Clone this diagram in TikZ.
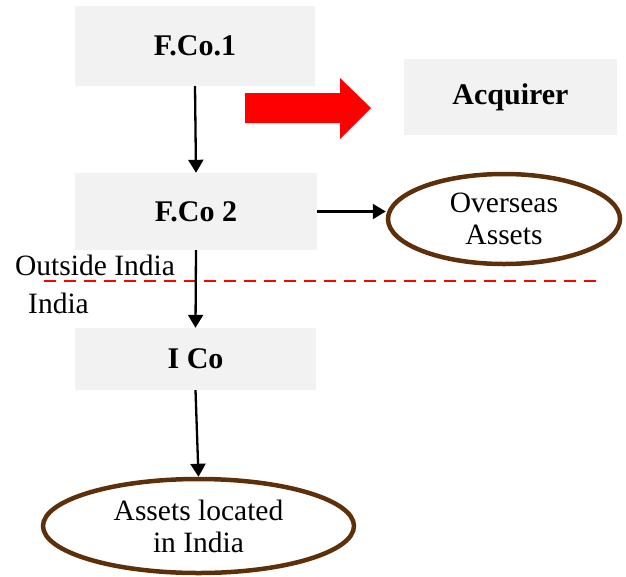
\documentclass[tikz,border=0pt]{standalone}
\usepackage{fontspec}
\setmainfont{Liberation Serif}
\usetikzlibrary{arrows.meta,shapes.geometric}
\definecolor{boxgrey}{HTML}{F2F2F2}
\definecolor{rim}{RGB}{94,48,10}
\tikzset{
  entity/.style={rectangle, fill=boxgrey, inner sep=0pt, font=\bfseries\fontsize{30}{32}\selectfont},
  holding/.style={ellipse, draw=rim, line width=4.5pt, inner sep=0pt, align=center,
    font=\fontsize{29.5}{32}\selectfont},
  link/.style={line width=2.3pt, -{Triangle[length=13pt,width=15pt]}},
  region/.style={font=\fontsize{29.5}{32}\selectfont, inner sep=0pt, anchor=base west}
}
\begin{document}
\begin{tikzpicture}[x=1pt,y=-1pt]
\useasboundingbox (0,0) rectangle (626,576);

% companies
\node[entity, minimum width=240pt, minimum height=80pt] (f1) at (195,46) {F.Co.1};
\node[entity, minimum width=213pt, minimum height=76pt] (acq) at (510.5,97) {Acquirer};
\node[entity, minimum width=242pt, minimum height=77pt] (f2) at (196,211.5) {F.Co 2};
\node[entity, minimum width=241pt, minimum height=62pt] (ico) at (195.5,359) {I Co};

% assets
\node[holding, minimum width=232pt, minimum height=90pt] (ov) at (504,219) {Overseas\\Assets};
\node[holding, minimum width=311pt, minimum height=94pt] (al) at (198.5,526) {Assets located\\in India};

% block arrow towards the acquirer
\fill[red] (245,93) -- (340,93) -- (340,78) -- (371,108) -- (340,139) -- (340,123) -- (245,123) -- cycle;

% border between the jurisdictions
\draw[red, line width=2.5pt, dash pattern=on 12pt off 8pt] (44,281) -- (598,281);
\node[region] (out) at (15,275) {Outside India};
\node[region] (in) at (28,313) {India};

% ownership links
\draw[link] (f1.south) -- (f2.north);
\draw[link] (f2.east) -- (ov.west |- f2.east);
\draw[link] (f2.south) -- (ico.north);
\draw[link] (ico.south) -- (al.north);
\end{tikzpicture}
\end{document}
